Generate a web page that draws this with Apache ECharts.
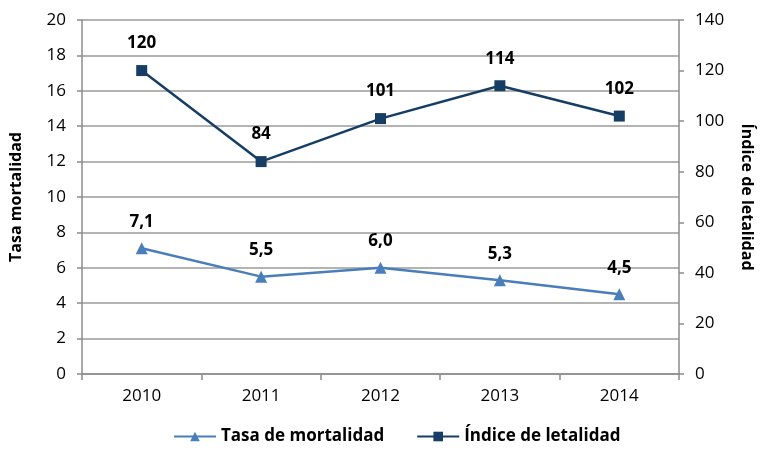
<!DOCTYPE html>
<html><head><meta charset="utf-8">
<script src="https://cdn.jsdelivr.net/npm/echarts@6/dist/echarts.min.js"></script>
<style>html,body{margin:0;padding:0;background:#fff}#c{width:763px;height:451px}</style>
</head><body><div id="c"></div>
<script>
var years = ['2010','2011','2012','2013','2014'];
var tasaMortalidad = [7.1, 5.5, 6.0, 5.3, 4.5];
var indiceLetalidad = [120, 84, 101, 114, 102];
var leftTicks = {min:0, max:20, interval:2};
var rightTicks = {min:0, max:140, interval:20};

var F = '"Open Sans", Lato, sans-serif';
var axisGrey = '#8c8c8c';
var chart = echarts.init(document.getElementById('c'));
chart.setOption({
  animation:false,
  textStyle:{fontFamily:F},
  grid:{left:80, right:78, top:20, bottom:77},
  legend:{
    bottom:1, left:168, itemWidth:42, itemHeight:12, itemGap:32,
    textStyle:{fontFamily:F, fontSize:17, fontWeight:'bold', color:'#000'},
    data:['Tasa de mortalidad','Índice de letalidad']
  },
  xAxis:{
    type:'category', data:years, boundaryGap:true,
    axisLine:{lineStyle:{color:axisGrey, width:1.5}},
    axisTick:{show:true, length:6, lineStyle:{color:axisGrey, width:1.5}},
    axisLabel:{color:'#000', fontSize:17, fontFamily:F, margin:14}
  },
  yAxis:[{
    type:'value', min:leftTicks.min, max:leftTicks.max, interval:leftTicks.interval,
    name:'Tasa mortalidad', nameLocation:'middle', nameRotate:90, nameGap:58,
    nameTextStyle:{fontSize:16, fontWeight:'bold', color:'#000', fontFamily:F},
    axisLine:{show:true, lineStyle:{color:axisGrey, width:1.5}},
    axisTick:{show:true, length:5, lineStyle:{color:axisGrey, width:1.5}},
    axisLabel:{color:'#000', fontSize:17, fontFamily:F, margin:16},
    splitLine:{lineStyle:{color:'#9a9a9a', width:1.5}}
  },{
    type:'value', min:rightTicks.min, max:rightTicks.max, interval:rightTicks.interval,
    position:'right',
    name:'Índice de letalidad', nameLocation:'middle', nameRotate:-90, nameGap:60,
    nameTextStyle:{fontSize:16, fontWeight:'bold', color:'#000', fontFamily:F},
    axisLine:{show:true, lineStyle:{color:axisGrey, width:1.5}},
    axisTick:{show:true, length:5, lineStyle:{color:axisGrey, width:1.5}},
    axisLabel:{color:'#000', fontSize:17, fontFamily:F, margin:16},
    splitLine:{show:false}
  }],
  series:[{
    name:'Tasa de mortalidad', type:'line', yAxisIndex:0, data:tasaMortalidad,
    symbol:'triangle', symbolSize:12,
    lineStyle:{color:'#4a7ebb', width:2.5},
    itemStyle:{color:'#4a7ebb'},
    label:{show:true, position:'top', distance:12, fontSize:17, fontWeight:'bold', color:'#000', fontFamily:F,
      formatter:function(p){return p.value.toFixed(1).replace('.', ',');}}
  },{
    name:'Índice de letalidad', type:'line', yAxisIndex:1, data:indiceLetalidad,
    symbol:'rect', symbolSize:11,
    lineStyle:{color:'#163e64', width:2.5},
    itemStyle:{color:'#163e64'},
    label:{show:true, position:'top', distance:13, fontSize:17, fontWeight:'bold', color:'#000', fontFamily:F}
  }]
});
</script></body></html>
